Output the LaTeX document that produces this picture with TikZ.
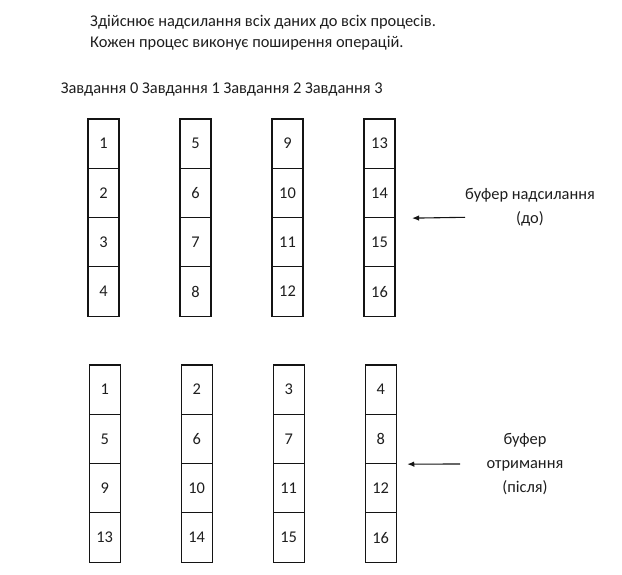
\documentclass[tikz,border=0pt]{standalone}
\usepackage{fontspec}
\setmainfont{Carlito}
\usetikzlibrary{arrows.meta}
\definecolor{BUFline}{RGB}{20,20,20}
\definecolor{BUFtext}{RGB}{30,30,30}

\begin{document}
\begin{tikzpicture}[x=1pt, y=-1pt,
	cell/.style={draw=BUFline, line width=1.1pt, minimum width=31pt, minimum height=49.3pt, inner sep=0, text=BUFtext},
	caption/.style={anchor=base west, text=BUFtext},
	side/.style={align=center, text=BUFtext, font=\fontsize{16.4}{24}\selectfont},
	pointer/.style={-{Latex[length=7pt, width=5.5pt]}, line width=1.1pt, BUFline},
	every node/.style={font=\fontsize{16.4}{21}\selectfont}
	]
	\useasboundingbox (0,0) rectangle (622,575);

	\node (line1) at (86.7,26.7) [caption] {Здійснює надсилання всіх даних до всіх процесів.};
	\node (line2) at (86.7,47.6) [caption] {Кожен процес виконує поширення операцій.};
	\node (tasks) at (57.3,94) [caption] {Завдання 0 Завдання 1 Завдання 2 Завдання 3};

	% send buffer (before)
	\foreach \c in {0,...,3} {
		\foreach \r in {0,...,3} {
			\pgfmathtruncatemacro{\v}{4*\c+\r+1}
			\node (snd-\c-\r) at (103.5+92*\c,143.65+49.3*\r) [cell] {\v};
		}
	}

	% receive buffer (after)
	\foreach \c in {0,...,3} {
		\foreach \r in {0,...,3} {
			\pgfmathtruncatemacro{\v}{4*\r+\c+1}
			\node (rcv-\c-\r) at (104.7+92*\c,389.65+49.3*\r) [cell] {\v};
		}
	}

	\node (sndlabel) at (530,207.5) [side] {буфер надсилання\\(до)};
	\coordinate (sndtail) at (465,217.3);
	\draw [pointer] (sndtail) -- ([xshift=16.5pt]snd-3-1.south east);

	\node (rcvlabel) at (525,464.5) [side] {буфер\\отримання\\(після)};
	\coordinate (rcvtail) at (460,464);
	\draw [pointer] (rcvtail) -- ([xshift=10.5pt]rcv-3-1.south east);
\end{tikzpicture}
\end{document}
